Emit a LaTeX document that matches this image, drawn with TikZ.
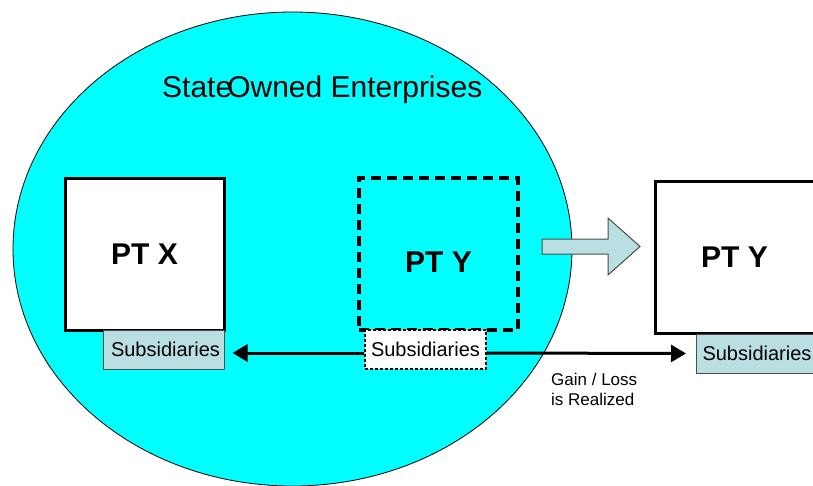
\documentclass[tikz,border=0pt]{standalone}
\usepackage{fontspec}
\setmainfont{Liberation Sans}
\usetikzlibrary{shapes.geometric,arrows.meta}

\definecolor{soecyan}{HTML}{00FFFF}
\definecolor{subblue}{HTML}{B9DFE3}

\begin{document}
\begin{tikzpicture}[x=1pt,y=-1pt,
		company/.style={rectangle,draw,line width=3pt,minimum width=159pt,minimum height=152pt,font=\fontsize{30}{36}\selectfont\bfseries},
		subsid/.style={rectangle,draw=black!70,fill=subblue,line width=1pt,inner sep=2pt,minimum width=121pt,minimum height=39pt,font=\fontsize{20}{24}\selectfont},
		realize/.style={line width=3pt,-{Triangle[length=15pt,width=17pt]}}]
	\useasboundingbox (0,0) rectangle (813,485);
	% state owned enterprises
	\node[ellipse,draw,fill=soecyan,line width=0.8pt,minimum width=559pt,minimum height=474pt] (soe) at (292.5,249) {};
	\node[anchor=base west,inner sep=0pt,font=\fontsize{30}{36}\selectfont] (title) at (162,97) {State\kern-5pt Owned Enterprises};
	% companies
	\node[company,fill=white] (ptx) at (144.5,254) {PT X};
	\node[company,line width=4pt,dash pattern=on 10pt off 6pt] (ptyin) at (438.5,254) {\raisebox{-18.5pt}[0pt][0pt]{PT Y}};
	\node[company,fill=white] (ptyout) at (734.5,257) {PT Y};
	% subsidiaries
	\node[subsid] (subx) at (163.5,349.5) {\hspace{4pt}Subsidiaries};
	\node[subsid,draw=black,fill=white,line width=1.2pt,dash pattern=on 3pt off 2pt] (subyin) at (425.5,349.5) {Subsidiaries};
	\node[subsid] (subyout) at (757,353.5) {Subsidiaries};
	% transfer
	\draw[draw=black!70,fill=subblue,line width=1pt] (542,239) -- (608,239) -- (608,218) -- (640,246.5) -- (608,275) -- (608,254) -- (542,254) -- cycle;
	\draw[realize,shorten >=8pt] ([yshift=-3.5pt]subyin.west) -- ([yshift=-3.5pt]subx.east);
	\draw[realize,shorten >=10pt] ([yshift=-3.5pt]subyin.east) -- (subyout.west);
	\node[anchor=north west,align=left,inner sep=0pt,font=\fontsize{17}{19.5}\selectfont] (gain) at (551,373) {Gain / Loss\\is Realized};
\end{tikzpicture}
\end{document}
